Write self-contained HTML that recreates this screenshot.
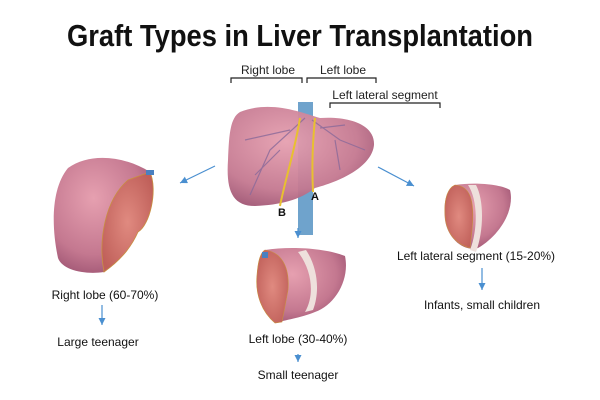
<!DOCTYPE html>
<html><head><meta charset="utf-8"><style>
html,body{margin:0;padding:0;background:#fff;width:600px;height:400px;overflow:hidden}
text{font-family:"Liberation Sans",sans-serif}
</style></head><body>
<svg width="600" height="400" viewBox="0 0 600 400" xmlns="http://www.w3.org/2000/svg">
<defs>
<radialGradient id="lv" cx="0.4" cy="0.35" r="0.7"><stop offset="0" stop-color="#e6a0b0"/><stop offset="0.7" stop-color="#c47890"/><stop offset="1" stop-color="#a05674"/></radialGradient>
<radialGradient id="cut" cx="0.5" cy="0.5" r="0.6"><stop offset="0" stop-color="#e08a80"/><stop offset="1" stop-color="#c0605a"/></radialGradient>
<marker id="ah" markerWidth="8" markerHeight="8" refX="6" refY="3" orient="auto"><path d="M0,0 L6,3 L0,6 z" fill="#4a8fd0"/></marker>
</defs>
<text x="300" y="46" text-anchor="middle" font-size="31" font-weight="bold" textLength="466" lengthAdjust="spacingAndGlyphs" fill="#111">Graft Types in Liver Transplantation</text>
<g font-size="12" fill="#222">
<text x="268" y="74" text-anchor="middle">Right lobe</text>
<text x="343" y="74" text-anchor="middle">Left lobe</text>
<text x="385" y="99" text-anchor="middle">Left lateral segment</text>
</g>
<g stroke="#222" stroke-width="1.2" fill="none">
<path d="M231,83 V78 H302 V83"/><path d="M307,83 V78 H376 V83"/><path d="M330,108 V103 H440 V108"/>
</g>
<!-- main liver -->
<rect x="298" y="102" width="15" height="133" fill="#6fa3cc"/>
<path d="M240,112 C270,100 300,112 320,118 C350,116 375,125 374,145 C372,165 345,180 315,188 C300,200 280,205 255,206 C232,206 226,190 228,160 C229,135 230,118 240,112 Z" fill="url(#lv)" opacity="0.95"/>
<g stroke="#8a6a9a" stroke-width="1.2" fill="none" opacity="0.8">
<path d="M305,118 L270,150 L250,195"/><path d="M290,130 L245,140"/><path d="M280,150 L255,175"/><path d="M312,120 L340,140 L365,150"/><path d="M320,128 L345,125"/><path d="M335,140 L340,170"/>
</g>
<path d="M300,118 C295,150 285,180 280,206" stroke="#e8c030" stroke-width="2" fill="none"/>
<path d="M315,118 C312,150 312,170 313,192" stroke="#e8c030" stroke-width="2" fill="none"/>
<text x="278" y="216" font-size="11" font-weight="bold" fill="#111">B</text>
<text x="311" y="200" font-size="11" font-weight="bold" fill="#111">A</text>
<!-- arrows -->
<g stroke="#4a8fd0" stroke-width="1.2" marker-end="url(#ah)">
<line x1="215" y1="166" x2="180" y2="183"/>
<line x1="378" y1="167" x2="414" y2="186"/>
<line x1="298" y1="228" x2="298" y2="238"/>
<line x1="102" y1="305" x2="102" y2="325"/>
<line x1="298" y1="354" x2="298" y2="362"/>
<line x1="482" y1="268" x2="482" y2="290"/>
</g>
<!-- left liver -->
<path d="M68,168 C90,152 125,156 150,172 C158,190 150,225 138,232 C130,250 118,262 104,272 C85,275 62,270 58,258 C52,230 50,190 68,168 Z" fill="url(#lv)"/>
<path d="M150,172 C158,190 150,225 138,232 C130,250 118,262 104,272 C98,240 105,200 128,180 Z" fill="url(#cut)" stroke="#c89040" stroke-width="0.8"/>
<rect x="146" y="170" width="8" height="5" fill="#4a80c0"/>
<!-- right small liver -->
<path d="M455,185 C475,182 500,184 510,190 C515,210 500,235 478,248 C465,252 448,240 445,220 C443,200 447,190 455,185 Z" fill="url(#lv)"/>
<path d="M455,185 C470,186 475,200 472,230 L470,248 C458,245 446,235 445,215 C444,198 448,188 455,185 Z" fill="url(#cut)" stroke="#c89040" stroke-width="0.6"/>
<path d="M468,185 C478,200 478,230 470,250 L476,252 C484,230 484,200 476,185 Z" fill="#eee0dc"/>
<!-- middle liver -->
<path d="M265,250 C290,246 325,248 345,256 C350,280 335,305 315,312 C300,318 285,320 275,323 C262,312 255,295 257,275 C258,262 260,253 265,250 Z" fill="url(#lv)"/>
<path d="M265,250 C280,252 290,265 288,290 L282,322 L275,323 C262,312 255,295 257,275 C258,262 260,253 265,250 Z" fill="url(#cut)" stroke="#c89040" stroke-width="0.6"/>
<path d="M298,252 C312,270 315,295 305,312 L313,310 C320,292 318,268 306,250 Z" fill="#eee0dc"/>
<rect x="262" y="252" width="6" height="6" fill="#4a80c0"/>
<!-- labels -->
<g font-size="12" fill="#111" text-anchor="middle">
<text x="105" y="299">Right lobe (60-70%)</text>
<text x="98" y="346">Large teenager</text>
<text x="298" y="343">Left lobe (30-40%)</text>
<text x="298" y="379">Small teenager</text>
<text x="476" y="260">Left lateral segment (15-20%)</text>
<text x="482" y="309">Infants, small children</text>
</g>
</svg>
</body></html>
